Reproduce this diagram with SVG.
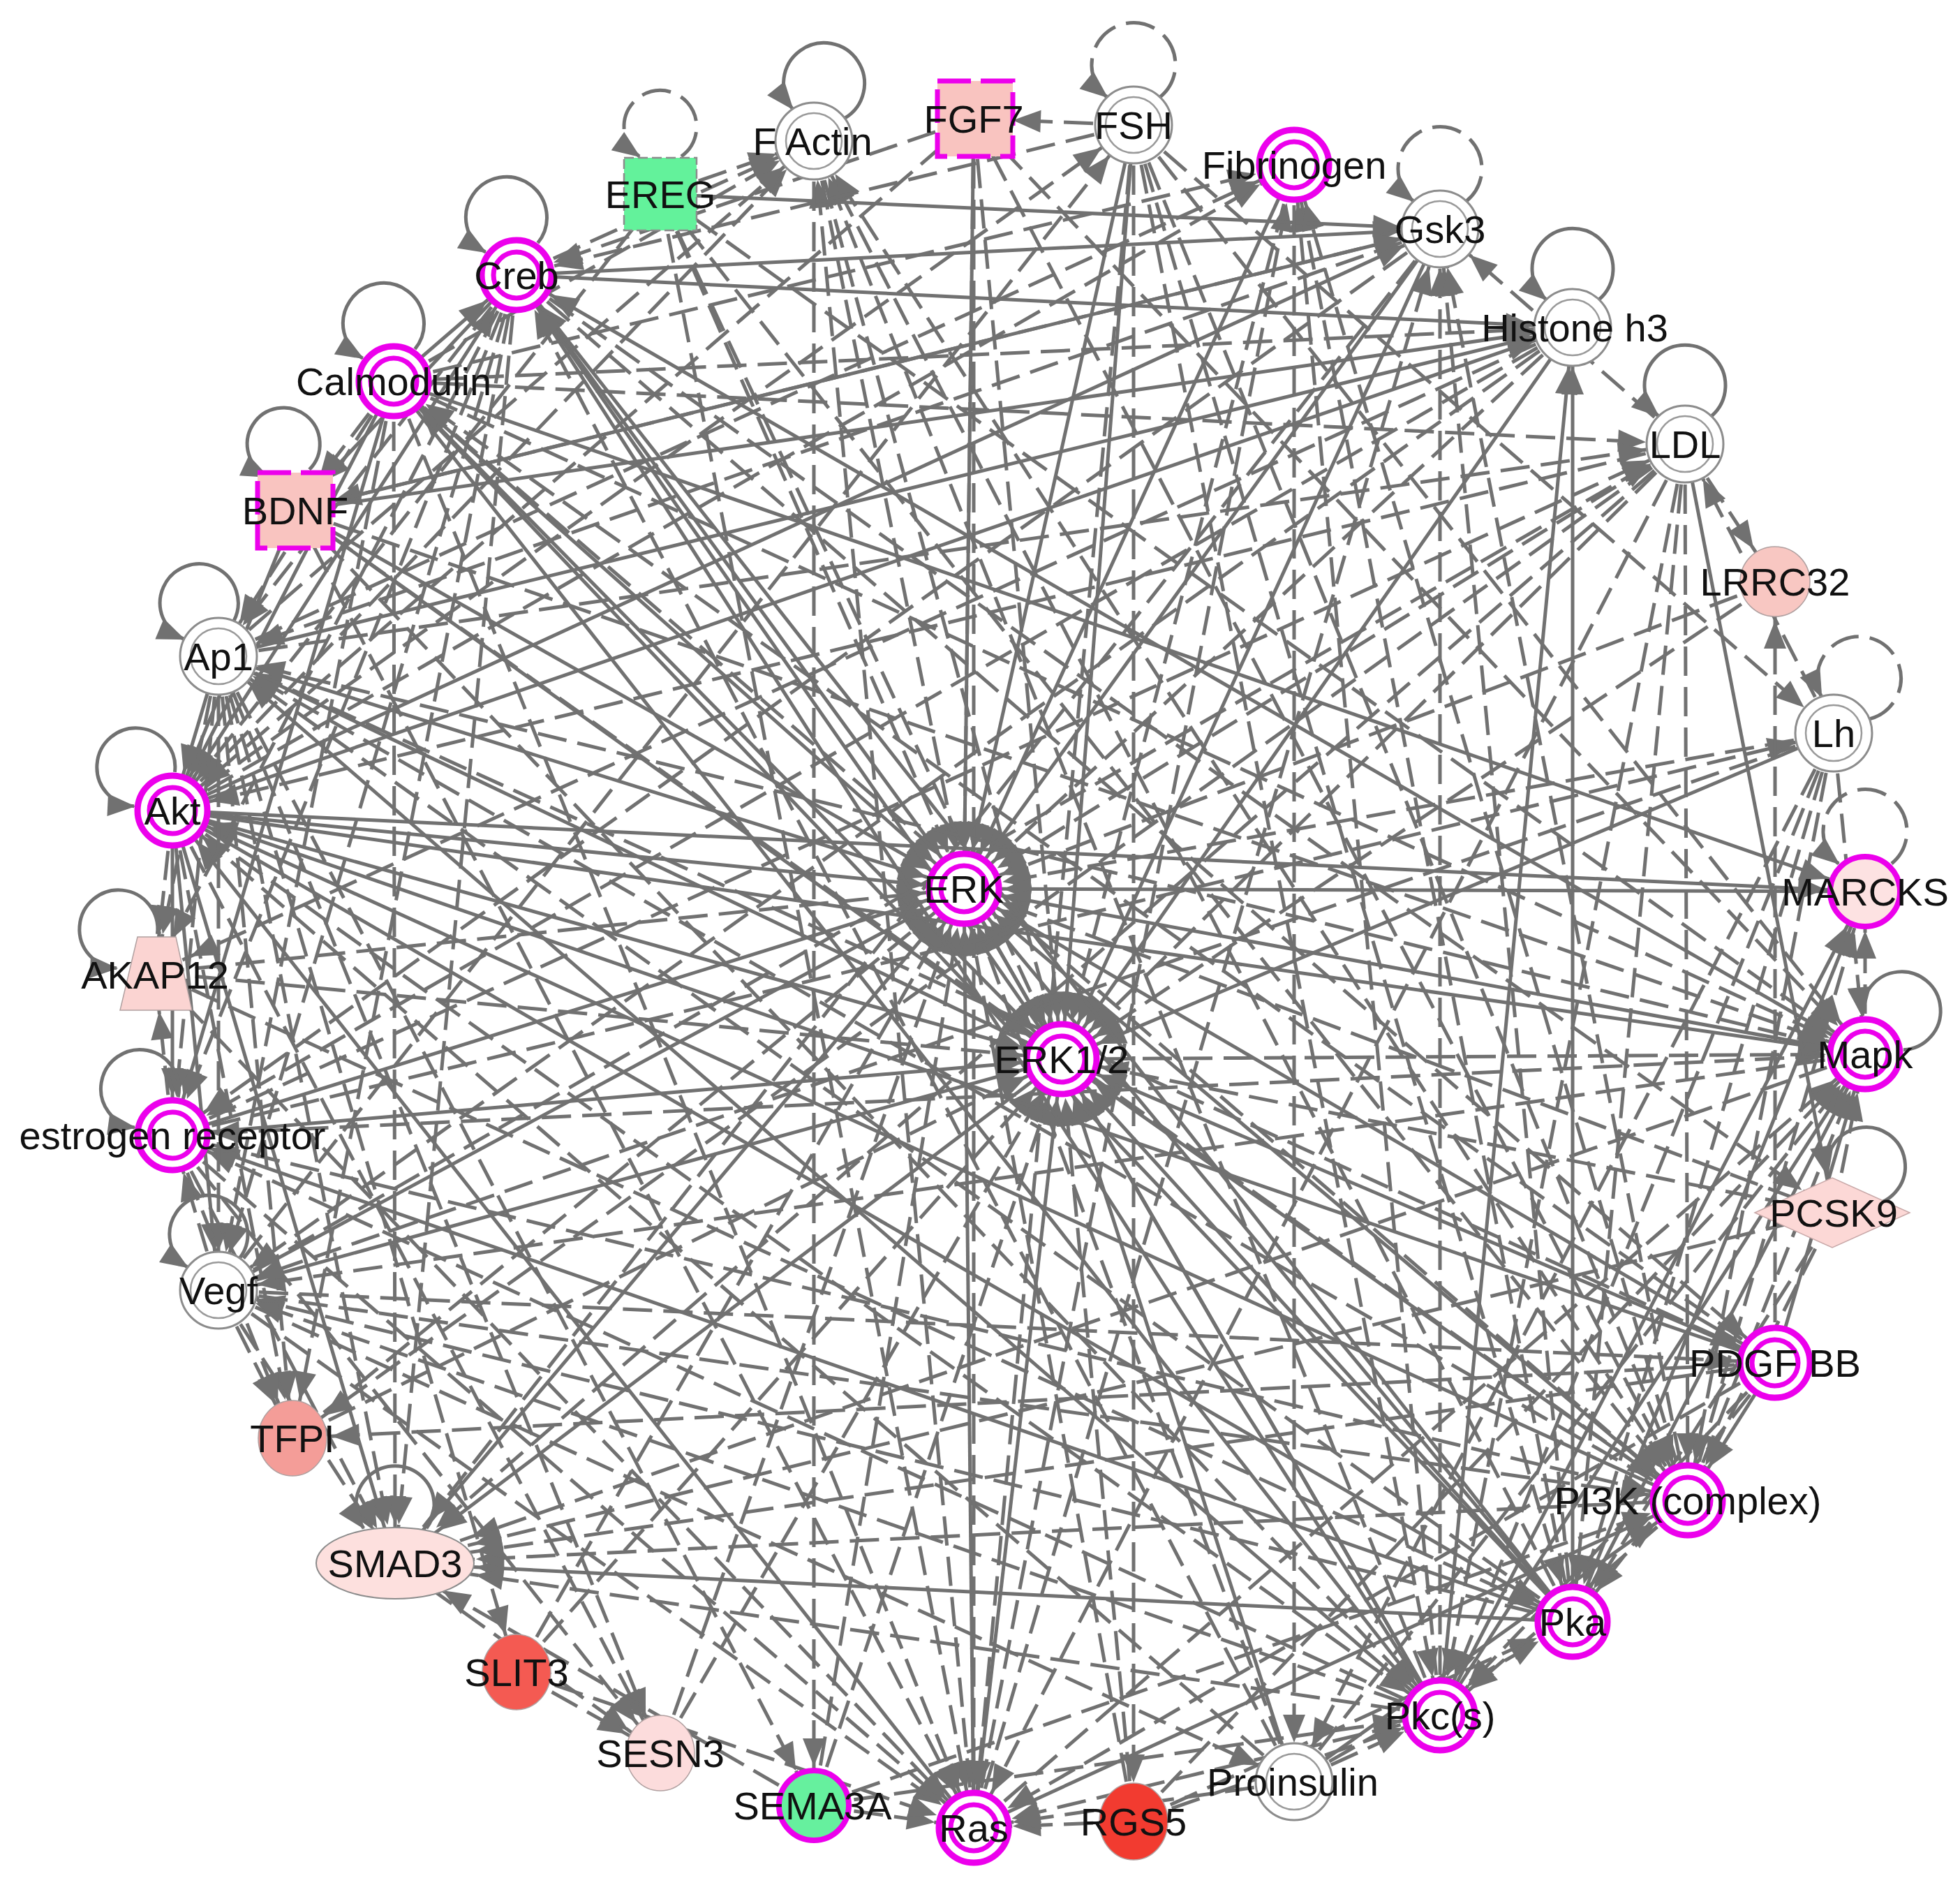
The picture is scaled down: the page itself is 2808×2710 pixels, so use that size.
<svg xmlns="http://www.w3.org/2000/svg" width="2808" height="2710" viewBox="0 0 2808 2710">
<style>
.s{fill:none;stroke:#717171;stroke-width:5;marker-end:url(#ah)}
.d{fill:none;stroke:#717171;stroke-width:5;stroke-dasharray:42 16;marker-end:url(#ah)}
.w1{marker-end:url(#aw1)}
.w2{marker-end:url(#aw2)}
.ls{fill:none;stroke:#717171;stroke-width:5;marker-end:url(#al)}
.ld{fill:none;stroke:#717171;stroke-width:5;stroke-dasharray:42 16;marker-end:url(#al)}
.mo{fill:#fff;stroke:#ec00ec;stroke-width:9}
.mi{fill:none;stroke:#ec00ec;stroke-width:7}
.wo{fill:#fff;stroke:#8c8c8c;stroke-width:3}
.wi{fill:none;stroke:#9a9a9a;stroke-width:2.5}
.t{font-family:"Liberation Sans",Arial,sans-serif;font-size:56px;fill:#111;text-anchor:middle}
</style>
<defs>
<marker id="ah" markerUnits="userSpaceOnUse" markerWidth="40" markerHeight="32" refX="96" refY="16" orient="auto" overflow="visible"><path d="M0 0L40 16L0 32z" fill="#717171"/></marker>
<marker id="aw1" markerUnits="userSpaceOnUse" markerWidth="40" markerHeight="32" refX="156" refY="16" orient="auto" overflow="visible"><path d="M0 0L40 16L0 32z" fill="#717171"/></marker>
<marker id="aw2" markerUnits="userSpaceOnUse" markerWidth="40" markerHeight="32" refX="118" refY="16" orient="auto" overflow="visible"><path d="M0 0L40 16L0 32z" fill="#717171"/></marker>
<marker id="al" markerUnits="userSpaceOnUse" markerWidth="40" markerHeight="32" refX="38" refY="16" orient="auto" overflow="visible"><path d="M0 0L40 16L0 32z" fill="#717171"/></marker>
</defs>
<rect width="2808" height="2710" fill="#fff"/>
<g id="connectors">
<path class="d" d="M1166 202L1381 1273"/>
<path class="d" d="M1395 170L1381 1273"/>
<path class="s" d="M1624 179L1381 1273"/>
<path class="s" d="M1854 236L1381 1273"/>
<path class="s" d="M2063 328L1381 1273"/>
<path class="d" d="M2253 469L1381 1273"/>
<path class="d" d="M2414 636L1381 1273"/>
<path class="d" d="M2627 1050L1381 1273"/>
<path class="s" d="M2672 1277L1381 1273"/>
<path class="s" d="M2672 1510L1381 1273"/>
<path class="s" d="M2543 1952L1381 1273"/>
<path class="s" d="M2418 2149L1381 1273"/>
<path class="s" d="M2253 2323L1381 1273"/>
<path class="s" d="M2063 2457L1381 1273"/>
<path class="d" d="M1854 2552L1381 1273"/>
<path class="d" d="M1624 2609L1381 1273"/>
<path class="s" d="M1395 2618L1381 1273"/>
<path class="d" d="M1166 2586L1381 1273"/>
<path class="s" d="M247 1161L1381 1273"/>
<path class="s" d="M313 940L1381 1273"/>
<path class="s" d="M423 731L1381 1273"/>
<path class="s" d="M564 546L1381 1273"/>
<path class="s" d="M740 394L1381 1273"/>
<path class="d" d="M946 278L1381 1273"/>
<path class="s" d="M313 1848L1381 1273"/>
<path class="s" d="M247 1626L1381 1273"/>
<path class="d" d="M222 1393L1381 1273"/>
<path class="s" d="M566 2239L1381 1273"/>
<path class="d" d="M419 2060L1381 1273"/>
<path class="d" d="M946 2511L1381 1273"/>
<path class="d" d="M2627 1737L1381 1273"/>
<path class="d" d="M2543 833L1381 1273"/>
<path class="d" d="M740 2395L1381 1273"/>
<path class="d" d="M1166 202L1521 1517"/>
<path class="d" d="M1395 170L1521 1517"/>
<path class="s" d="M1624 179L1521 1517"/>
<path class="d" d="M1854 236L1521 1517"/>
<path class="s" d="M2063 328L1521 1517"/>
<path class="s" d="M2253 469L1521 1517"/>
<path class="d" d="M2414 636L1521 1517"/>
<path class="s" d="M2627 1050L1521 1517"/>
<path class="d" d="M2627 1737L1521 1517"/>
<path class="s" d="M2543 1952L1521 1517"/>
<path class="s" d="M2418 2149L1521 1517"/>
<path class="s" d="M2253 2323L1521 1517"/>
<path class="s" d="M2063 2457L1521 1517"/>
<path class="s" d="M1854 2552L1521 1517"/>
<path class="d" d="M1624 2609L1521 1517"/>
<path class="s" d="M1395 2618L1521 1517"/>
<path class="d" d="M1166 2586L1521 1517"/>
<path class="s" d="M247 1161L1521 1517"/>
<path class="s" d="M423 731L1521 1517"/>
<path class="s" d="M564 546L1521 1517"/>
<path class="d" d="M946 278L1521 1517"/>
<path class="s" d="M313 1848L1521 1517"/>
<path class="s" d="M247 1626L1521 1517"/>
<path class="d" d="M222 1393L1521 1517"/>
<path class="d" d="M419 2060L1521 1517"/>
<path class="d" d="M946 2511L1521 1517"/>
<path class="d" d="M740 2395L1521 1517"/>
<path class="d" d="M2543 833L1521 1517"/>
<path class="s" d="M1381 1273L1521 1517"/>
<path class="d" d="M1521 1517L2672 1510"/>
<path class="s" d="M1521 1517L740 394"/>
<path class="s" d="M1521 1517L313 940"/>
<path class="s w2" d="M1521 1517L566 2239"/>
<path class="s" d="M247 1161L2253 2323"/>
<path class="s" d="M247 1161L2672 1510"/>
<path class="s" d="M247 1161L740 394"/>
<path class="s" d="M247 1161L2063 328"/>
<path class="s" d="M247 1161L313 1848"/>
<path class="s" d="M247 1161L247 1626"/>
<path class="s" d="M247 1161L566 2239"/>
<path class="s" d="M247 1161L2253 469"/>
<path class="d" d="M247 1161L2063 2457"/>
<path class="d" d="M247 1161L222 1393"/>
<path class="d" d="M247 1161L419 2060"/>
<path class="d" d="M247 1161L946 2511"/>
<path class="d" d="M247 1161L1166 202"/>
<path class="d" d="M247 1161L1854 236"/>
<path class="d" d="M247 1161L1624 179"/>
<path class="s" d="M247 1161L2672 1277"/>
<path class="s" d="M2418 2149L247 1161"/>
<path class="s" d="M423 731L247 1161"/>
<path class="s" d="M564 546L247 1161"/>
<path class="s" d="M1395 2618L247 1161"/>
<path class="s" d="M2543 1952L247 1161"/>
<path class="d" d="M946 278L247 1161"/>
<path class="d" d="M1395 170L247 1161"/>
<path class="d" d="M1854 2552L247 1161"/>
<path class="d" d="M2414 636L247 1161"/>
<path class="s" d="M313 940L247 1161"/>
<path class="s w1" d="M2253 2323L566 2239"/>
<path class="s" d="M2253 2323L740 394"/>
<path class="d" d="M2253 2323L2063 328"/>
<path class="s" d="M2253 2323L2672 1277"/>
<path class="s" d="M2253 2323L2672 1510"/>
<path class="s" d="M2253 2323L2253 469"/>
<path class="d" d="M2253 2323L313 940"/>
<path class="d" d="M2253 2323L313 1848"/>
<path class="s" d="M2253 2323L247 1626"/>
<path class="s" d="M2253 2323L564 546"/>
<path class="d" d="M2253 2323L1166 202"/>
<path class="d" d="M2253 2323L1854 236"/>
<path class="d" d="M222 1393L2253 2323"/>
<path class="d" d="M2627 1050L2253 2323"/>
<path class="d" d="M1624 179L2253 2323"/>
<path class="d" d="M1854 2552L2253 2323"/>
<path class="d" d="M2543 1952L2253 2323"/>
<path class="d" d="M1624 2609L2253 2323"/>
<path class="d" d="M2627 1737L2253 2323"/>
<path class="d" d="M2414 636L2253 2323"/>
<path class="s" d="M2063 2457L2672 1277"/>
<path class="s" d="M2063 2457L2672 1510"/>
<path class="s" d="M2063 2457L740 394"/>
<path class="d" d="M2063 2457L2063 328"/>
<path class="d" d="M2063 2457L1395 2618"/>
<path class="d" d="M2063 2457L313 1848"/>
<path class="s" d="M2063 2457L313 940"/>
<path class="d" d="M2063 2457L247 1626"/>
<path class="d w1" d="M2063 2457L566 2239"/>
<path class="s" d="M2063 2457L2253 469"/>
<path class="d" d="M2063 2457L1854 236"/>
<path class="d" d="M2063 2457L1166 202"/>
<path class="s" d="M564 546L2063 2457"/>
<path class="d" d="M1854 2552L2063 2457"/>
<path class="d" d="M423 731L2063 2457"/>
<path class="d" d="M1624 179L2063 2457"/>
<path class="d" d="M1624 2609L2063 2457"/>
<path class="d" d="M2627 1050L2063 2457"/>
<path class="d" d="M2543 1952L2063 2457"/>
<path class="d" d="M2418 2149L2063 2457"/>
<path class="d" d="M2414 636L2063 2457"/>
<path class="d" d="M1166 2586L2063 2457"/>
<path class="s" d="M1395 2618L2418 2149"/>
<path class="d" d="M1395 2618L2672 1510"/>
<path class="d" d="M1395 2618L1166 202"/>
<path class="d" d="M1395 2618L1854 236"/>
<path class="d" d="M1395 2618L2063 328"/>
<path class="d" d="M946 278L1395 2618"/>
<path class="d" d="M1395 170L1395 2618"/>
<path class="d" d="M423 731L1395 2618"/>
<path class="d" d="M2543 1952L1395 2618"/>
<path class="d" d="M313 1848L1395 2618"/>
<path class="d" d="M1624 2609L1395 2618"/>
<path class="d" d="M1166 2586L1395 2618"/>
<path class="d" d="M1854 2552L1395 2618"/>
<path class="d" d="M564 546L1395 2618"/>
<path class="d" d="M247 1626L1395 2618"/>
<path class="d" d="M1624 179L1395 2618"/>
<path class="d" d="M222 1393L1395 2618"/>
<path class="d" d="M2414 636L1395 2618"/>
<path class="d" d="M740 2395L1395 2618"/>
<path class="d" d="M2418 2149L2672 1510"/>
<path class="d" d="M2418 2149L2063 328"/>
<path class="d w1" d="M2418 2149L566 2239"/>
<path class="d" d="M2418 2149L313 940"/>
<path class="d" d="M2418 2149L1166 202"/>
<path class="d" d="M2418 2149L1854 236"/>
<path class="d" d="M2418 2149L2672 1277"/>
<path class="s" d="M2543 1952L2418 2149"/>
<path class="d" d="M946 278L2418 2149"/>
<path class="s" d="M1854 2552L2418 2149"/>
<path class="d" d="M313 1848L2418 2149"/>
<path class="d" d="M247 1626L2418 2149"/>
<path class="d" d="M1395 170L2418 2149"/>
<path class="d" d="M423 731L2418 2149"/>
<path class="d" d="M564 546L2418 2149"/>
<path class="d" d="M1624 179L2418 2149"/>
<path class="d" d="M2627 1050L2418 2149"/>
<path class="d" d="M2414 636L2418 2149"/>
<path class="d" d="M1166 2586L2418 2149"/>
<path class="d" d="M2627 1737L2418 2149"/>
<path class="d" d="M2672 1510L313 940"/>
<path class="s" d="M2672 1510L740 394"/>
<path class="d" d="M2672 1510L247 1626"/>
<path class="d w1" d="M2672 1510L566 2239"/>
<path class="d" d="M2672 1510L313 1848"/>
<path class="d" d="M2672 1510L2672 1277"/>
<path class="d" d="M423 731L2672 1510"/>
<path class="s" d="M2543 1952L2672 1510"/>
<path class="d" d="M2627 1737L2672 1510"/>
<path class="d" d="M2627 1050L2672 1510"/>
<path class="d" d="M1624 179L2672 1510"/>
<path class="d" d="M564 546L2672 1510"/>
<path class="d" d="M1854 2552L2672 1510"/>
<path class="d" d="M946 278L2672 1510"/>
<path class="d" d="M1395 170L2672 1510"/>
<path class="d" d="M1624 2609L2672 1510"/>
<path class="s" d="M740 394L423 731"/>
<path class="s" d="M740 394L2253 469"/>
<path class="s" d="M740 394L2063 328"/>
<path class="d" d="M740 394L313 940"/>
<path class="d" d="M740 394L313 1848"/>
<path class="d" d="M740 394L566 2239"/>
<path class="d" d="M740 394L247 1626"/>
<path class="d" d="M740 394L419 2060"/>
<path class="d" d="M740 394L222 1393"/>
<path class="d" d="M740 394L1166 202"/>
<path class="d" d="M740 394L2627 1737"/>
<path class="d" d="M740 394L2543 1952"/>
<path class="s" d="M564 546L740 394"/>
<path class="d" d="M1624 179L740 394"/>
<path class="d" d="M1854 2552L740 394"/>
<path class="d" d="M1395 170L740 394"/>
<path class="s" d="M564 546L2672 1277"/>
<path class="s" d="M564 546L247 1626"/>
<path class="d" d="M564 546L313 1848"/>
<path class="d" d="M564 546L2253 469"/>
<path class="d" d="M564 546L313 940"/>
<path class="d" d="M564 546L566 2239"/>
<path class="d" d="M564 546L2414 636"/>
<path class="d" d="M564 546L1166 202"/>
<path class="d" d="M564 546L1854 236"/>
<path class="d" d="M564 546L423 731"/>
<path class="d" d="M313 940L313 1848"/>
<path class="d" d="M313 940L566 2239"/>
<path class="d" d="M313 940L419 2060"/>
<path class="d" d="M313 940L1166 2586"/>
<path class="d" d="M313 940L740 2395"/>
<path class="d" d="M313 940L247 1626"/>
<path class="d" d="M313 940L222 1393"/>
<path class="d" d="M313 940L946 2511"/>
<path class="s" d="M313 940L2253 469"/>
<path class="d" d="M313 940L2414 636"/>
<path class="d" d="M313 940L1854 236"/>
<path class="d" d="M313 940L2543 1952"/>
<path class="d" d="M313 940L1166 202"/>
<path class="d" d="M313 1848L419 2060"/>
<path class="d" d="M313 1848L566 2239"/>
<path class="d" d="M313 1848L247 1626"/>
<path class="d" d="M313 1848L1854 2552"/>
<path class="d" d="M313 1848L2543 1952"/>
<path class="d" d="M313 1848L2414 636"/>
<path class="d" d="M313 1848L1624 179"/>
<path class="d" d="M247 1626L566 2239"/>
<path class="d" d="M247 1626L419 2060"/>
<path class="d" d="M247 1626L222 1393"/>
<path class="d" d="M247 1626L2414 636"/>
<path class="d" d="M247 1626L2627 1050"/>
<path class="d" d="M247 1626L946 2511"/>
<path class="d" d="M2063 328L423 731"/>
<path class="d" d="M2063 328L247 1626"/>
<path class="d w2" d="M2063 328L566 2239"/>
<path class="d" d="M2063 328L313 940"/>
<path class="s" d="M946 278L2063 328"/>
<path class="s" d="M423 731L2063 328"/>
<path class="d" d="M2414 636L2063 328"/>
<path class="d" d="M2253 469L247 1626"/>
<path class="d" d="M2253 469L313 1848"/>
<path class="d" d="M2253 469L222 1393"/>
<path class="s" d="M423 731L2253 469"/>
<path class="s" d="M2414 636L2627 1737"/>
<path class="d" d="M2414 636L419 2060"/>
<path class="d w2" d="M2414 636L566 2239"/>
<path class="d" d="M2414 636L2543 833"/>
<path class="d" d="M2627 1050L313 1848"/>
<path class="d" d="M2627 1050L1854 2552"/>
<path class="d" d="M2627 1050L2414 636"/>
<path class="d" d="M1624 179L2627 1050"/>
<path class="d w1" d="M2627 1737L566 2239"/>
<path class="d w1" d="M2543 1952L566 2239"/>
<path class="d" d="M2543 1952L419 2060"/>
<path class="d" d="M2543 1952L564 546"/>
<path class="d" d="M2543 1952L2543 833"/>
<path class="d" d="M566 2239L946 2511"/>
<path class="d w2" d="M1166 2586L566 2239"/>
<path class="d" d="M740 2395L946 2511"/>
<path class="d" d="M1624 179L1624 2609"/>
<path class="d" d="M1854 236L1854 2552"/>
<path class="d" d="M1624 179L1395 170"/>
<path class="d" d="M946 278L1166 202"/>
<path class="d" d="M1166 202L1166 2586"/>
<path class="s" d="M1395 170L1381 1273"/>
<path class="ls" transform="translate(1166 202) rotate(10)" d="M38 -40A58 58 0 1 0 -38 -40"/>
<path class="ld" transform="translate(946 278)" d="M30 -54A52 52 0 1 0 -30 -54"/>
<path class="ld" transform="translate(1624 179)" d="M38 -40A60 60 0 1 0 -38 -40"/>
<path class="ld" transform="translate(2063 328)" d="M38 -40A60 60 0 1 0 -38 -40"/>
<path class="ls" transform="translate(2253 469)" d="M38 -40A58 58 0 1 0 -38 -40"/>
<path class="ls" transform="translate(2414 636)" d="M38 -40A58 58 0 1 0 -38 -40"/>
<path class="ld" transform="translate(2627 1050) rotate(25)" d="M38 -40A60 60 0 1 0 -38 -40"/>
<path class="ld" transform="translate(2672 1277)" d="M38 -40A60 60 0 1 0 -38 -40"/>
<path class="ls" transform="translate(2672 1510) rotate(40)" d="M38 -40A56 56 0 1 0 -38 -40"/>
<path class="ls" transform="translate(2627 1737) rotate(35)" d="M38 -40A56 56 0 1 0 -38 -40"/>
<path class="ls" transform="translate(740 394) rotate(-10)" d="M38 -40A58 58 0 1 0 -38 -40"/>
<path class="ls" transform="translate(564 546) rotate(-10)" d="M38 -40A58 58 0 1 0 -38 -40"/>
<path class="ls" transform="translate(423 731) rotate(-10)" d="M30 -54A52 52 0 1 0 -30 -54"/>
<path class="ls" transform="translate(313 940) rotate(-20)" d="M38 -40A56 56 0 1 0 -38 -40"/>
<path class="ls" transform="translate(247 1161) rotate(-40)" d="M38 -40A56 56 0 1 0 -38 -40"/>
<path class="ls" transform="translate(222 1393) rotate(-40)" d="M38 -40A56 56 0 1 0 -38 -40"/>
<path class="ls" transform="translate(247 1626) rotate(-35)" d="M38 -40A56 56 0 1 0 -38 -40"/>
<path class="ls" transform="translate(313 1848) rotate(-10)" d="M38 -40A56 56 0 1 0 -38 -40"/>
<path class="ls" transform="translate(566 2239)" d="M45 -50A56 56 0 1 0 -45 -50"/>
</g>
<g id="node-FActin"><circle cx="1166" cy="202" r="55" class="wo"/><circle cx="1166" cy="202" r="40" class="wi"/><text x="1164" y="222" class="t">F Actin</text></g>
<g id="node-FGF7"><rect x="1343" y="116" width="108" height="108" fill="#f9c4c0" stroke="#ec00ec" stroke-width="7" stroke-dasharray="48 14"/><text x="1395" y="190" class="t">FGF7</text></g>
<g id="node-FSH"><circle cx="1624" cy="179" r="55" class="wo"/><circle cx="1624" cy="179" r="40" class="wi"/><text x="1624" y="199" class="t">FSH</text></g>
<g id="node-Fibrinogen"><circle cx="1854" cy="236" r="50" class="mo"/><circle cx="1854" cy="236" r="33" class="mi"/><text x="1854" y="256" class="t">Fibrinogen</text></g>
<g id="node-Gsk3"><circle cx="2063" cy="328" r="55" class="wo"/><circle cx="2063" cy="328" r="40" class="wi"/><text x="2063" y="348" class="t">Gsk3</text></g>
<g id="node-Histoneh3"><circle cx="2253" cy="469" r="55" class="wo"/><circle cx="2253" cy="469" r="40" class="wi"/><text x="2256" y="489" class="t">Histone h3</text></g>
<g id="node-LDL"><circle cx="2414" cy="636" r="55" class="wo"/><circle cx="2414" cy="636" r="40" class="wi"/><text x="2414" y="656" class="t">LDL</text></g>
<g id="node-LRRC32"><circle cx="2543" cy="833" r="50" fill="#f8c7c2" stroke="#b0a0a0" stroke-width="1.5"/><text x="2543" y="853" class="t">LRRC32</text></g>
<g id="node-Lh"><circle cx="2627" cy="1050" r="55" class="wo"/><circle cx="2627" cy="1050" r="40" class="wi"/><text x="2627" y="1070" class="t">Lh</text></g>
<g id="node-MARCKS"><circle cx="2672" cy="1277" r="50" fill="#fde2e2" stroke="#ec00ec" stroke-width="8"/><text x="2672" y="1297" class="t">MARCKS</text></g>
<g id="node-Mapk"><circle cx="2672" cy="1510" r="50" class="mo"/><circle cx="2672" cy="1510" r="33" class="mi"/><text x="2672" y="1530" class="t">Mapk</text></g>
<g id="node-PCSK9"><polygon points="2514,1737 2625,1687 2736,1737 2625,1787" fill="#fcd8d6" stroke="#c8a8a8" stroke-width="1.5"/><text x="2627" y="1757" class="t">PCSK9</text></g>
<g id="node-PDGFBB"><circle cx="2543" cy="1952" r="50" class="mo"/><circle cx="2543" cy="1952" r="33" class="mi"/><text x="2543" y="1972" class="t">PDGF BB</text></g>
<g id="node-PI3K"><circle cx="2418" cy="2149" r="50" class="mo"/><circle cx="2418" cy="2149" r="33" class="mi"/><text x="2418" y="2169" class="t">PI3K (complex)</text></g>
<g id="node-Pka"><circle cx="2253" cy="2323" r="50" class="mo"/><circle cx="2253" cy="2323" r="33" class="mi"/><text x="2253" y="2343" class="t">Pka</text></g>
<g id="node-Pkcs"><circle cx="2063" cy="2457" r="50" class="mo"/><circle cx="2063" cy="2457" r="33" class="mi"/><text x="2063" y="2477" class="t">Pkc(s)</text></g>
<g id="node-Proinsulin"><circle cx="1854" cy="2552" r="55" class="wo"/><circle cx="1854" cy="2552" r="40" class="wi"/><text x="1852" y="2572" class="t">Proinsulin</text></g>
<g id="node-RGS5"><ellipse cx="1624" cy="2609" rx="49" ry="55" fill="#f23b30" stroke="#b0a0a0" stroke-width="1.5"/><text x="1624" y="2629" class="t">RGS5</text></g>
<g id="node-Ras"><circle cx="1395" cy="2618" r="50" class="mo"/><circle cx="1395" cy="2618" r="33" class="mi"/><text x="1395" y="2638" class="t">Ras</text></g>
<g id="node-SEMA3A"><circle cx="1166" cy="2586" r="50" fill="#66f09e" stroke="#ec00ec" stroke-width="8"/><text x="1164" y="2606" class="t">SEMA3A</text></g>
<g id="node-SESN3"><ellipse cx="946" cy="2511" rx="49" ry="54" fill="#fcdcdc" stroke="#b0a0a0" stroke-width="1.5"/><text x="946" y="2531" class="t">SESN3</text></g>
<g id="node-SLIT3"><ellipse cx="740" cy="2395" rx="49" ry="54" fill="#f45a52" stroke="#b0a0a0" stroke-width="1.5"/><text x="740" y="2415" class="t">SLIT3</text></g>
<g id="node-SMAD3"><ellipse cx="566" cy="2239" rx="113" ry="51" fill="#fde0de" stroke="#8c8c8c" stroke-width="2"/><text x="566" y="2259" class="t">SMAD3</text></g>
<g id="node-TFPI"><ellipse cx="419" cy="2060" rx="49" ry="54" fill="#f49d98" stroke="#b0a0a0" stroke-width="1.5"/><text x="419" y="2080" class="t">TFPI</text></g>
<g id="node-Vegf"><circle cx="313" cy="1848" r="55" class="wo"/><circle cx="313" cy="1848" r="40" class="wi"/><text x="313" y="1868" class="t">Vegf</text></g>
<g id="node-estrogenreceptor"><circle cx="247" cy="1626" r="50" class="mo"/><circle cx="247" cy="1626" r="33" class="mi"/><text x="247" y="1646" class="t">estrogen receptor</text></g>
<g id="node-AKAP12"><polygon points="197,1342 252,1342 275,1447 172,1447" fill="#fbd4d2" stroke="#b0a0a0" stroke-width="1.5"/><text x="222" y="1416" class="t">AKAP12</text></g>
<g id="node-Akt"><circle cx="247" cy="1161" r="50" class="mo"/><circle cx="247" cy="1161" r="33" class="mi"/><text x="247" y="1181" class="t">Akt</text></g>
<g id="node-Ap1"><circle cx="313" cy="940" r="55" class="wo"/><circle cx="313" cy="940" r="40" class="wi"/><text x="313" y="960" class="t">Ap1</text></g>
<g id="node-BDNF"><rect x="369" y="677" width="108" height="108" fill="#f9c4c0" stroke="#ec00ec" stroke-width="7" stroke-dasharray="48 14"/><text x="423" y="751" class="t">BDNF</text></g>
<g id="node-Calmodulin"><circle cx="564" cy="546" r="50" class="mo"/><circle cx="564" cy="546" r="33" class="mi"/><text x="564" y="566" class="t">Calmodulin</text></g>
<g id="node-Creb"><circle cx="740" cy="394" r="50" class="mo"/><circle cx="740" cy="394" r="33" class="mi"/><text x="740" y="414" class="t">Creb</text></g>
<g id="node-EREG"><rect x="894" y="226" width="104" height="104" fill="#63f29b" stroke="#8c8c8c" stroke-width="2.5" stroke-dasharray="14 6"/><text x="946" y="298" class="t">EREG</text></g>
<g id="node-ERK"><circle cx="1381" cy="1273" r="50" class="mo"/><circle cx="1381" cy="1273" r="33" class="mi"/><text x="1381" y="1293" class="t">ERK</text></g>
<g id="node-ERK12"><circle cx="1521" cy="1517" r="50" class="mo"/><circle cx="1521" cy="1517" r="33" class="mi"/><text x="1521" y="1537" class="t">ERK1/2</text></g>
</svg>
